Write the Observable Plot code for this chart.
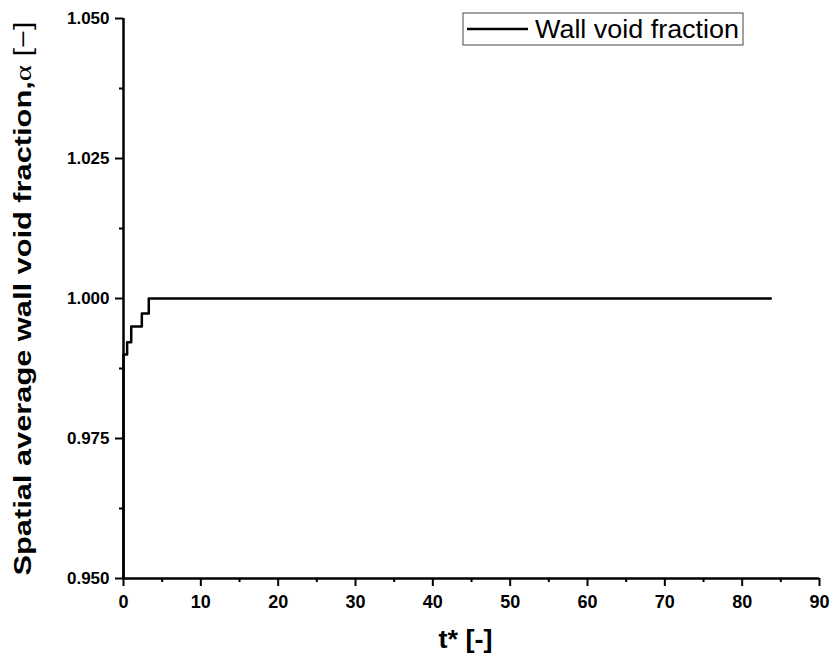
<!DOCTYPE html>
<html>
<head>
<meta charset="utf-8">
<script src="https://cdn.jsdelivr.net/npm/d3@7"></script>
<script src="https://cdn.jsdelivr.net/npm/@observablehq/plot@0.6"></script>
<style>
  html, body { margin: 0; padding: 0; background: #fff; }
  #chart svg { display: block; }
</style>
</head>
<body>
<div id="chart"></div>
<script>
// Data (step series)
const tStar = [0, 0, 0.47, 1.0, 2.37, 3.27, 83.7];
const alpha = [0.950, 0.990, 0.9922, 0.995, 0.9973, 1.000, 1.000];

// Tick values
const xMajor = [0, 10, 20, 30, 40, 50, 60, 70, 80, 90];
const xMinor = [5, 15, 25, 35, 45, 55, 65, 75, 85];
const yMajor = [0.950, 0.975, 1.000, 1.025, 1.050];
const yMinor = [0.9625, 0.9875, 1.0125, 1.0375];

const seriesName = "Wall void fraction";
const xLabel = "t* [-]";
const yLabelMain = "Spatial average wall void fraction,";
const yLabelSym = "α";
const yLabelUnit = " [\u2212]";

const data = tStar.map((t, i) => ({t, a: alpha[i]}));
const font = "'Liberation Sans', Arial, sans-serif";

const chart = Plot.plot({
  width: 833,
  height: 666,
  marginLeft: 123,
  marginRight: 14,
  marginTop: 18,
  marginBottom: 88,
  style: {fontFamily: font, fontWeight: "bold", fontSize: "17px", color: "#000", background: "#fff"},
  x: {domain: [0, 90]},
  y: {domain: [0.95, 1.05]},
  marks: [
    Plot.axisX({ticks: xMajor, tickSize: 8, tickPadding: 9, strokeWidth: 2, tickFormat: d => String(d), label: null, fontSize: 18}),
    Plot.axisX({ticks: xMinor, tickSize: 4, strokeWidth: 2, tickFormat: () => "", label: null}),
    Plot.axisY({ticks: yMajor, tickSize: 8, tickPadding: 6, strokeWidth: 2, tickFormat: d3.format(".3f"), label: null, fontSize: 17}),
    Plot.axisY({ticks: yMinor, tickSize: 4, strokeWidth: 2, tickFormat: () => "", label: null}),
    Plot.ruleY([0.95], {strokeWidth: 2.5}),
    Plot.ruleX([0], {strokeWidth: 2.5}),
    Plot.line(data, {x: "t", y: "a", curve: "step-after", stroke: "#000", strokeWidth: 2.5}),
    Plot.text([xLabel], {frameAnchor: "bottom", dx: -6, dy: 69, fontSize: 26, fontWeight: "bold", className: "xlab"}),
    Plot.text([yLabelMain], {frameAnchor: "left", dx: -100, rotate: -90, textAnchor: "middle", fontSize: 23, fontWeight: "bold", className: "ylab"})
  ]
});

document.getElementById("chart").appendChild(chart);

const svg = d3.select(chart);

// x label stretched like the reference
svg.select("g.xlab text").attr("textLength", 54).attr("lengthAdjust", "spacingAndGlyphs");

// rich y label with Greek alpha, stretched along its length like the reference
const yl = svg.select("g.ylab text");
yl.text(null);
yl.append("tspan").text(yLabelMain);
yl.append("tspan").attr("font-family", "'Liberation Serif', 'Times New Roman', serif").attr("font-weight", "normal").text(yLabelSym);
yl.append("tspan").attr("font-weight", "normal").text(yLabelUnit);
yl.attr("textLength", 554).attr("lengthAdjust", "spacingAndGlyphs");

// legend box
const lg = svg.append("g");
lg.append("rect").attr("x", 463).attr("y", 13).attr("width", 280).attr("height", 32)
  .attr("fill", "#fff").attr("stroke", "#444").attr("stroke-width", 1);
lg.append("line").attr("x1", 467).attr("x2", 528).attr("y1", 29).attr("y2", 29)
  .attr("stroke", "#000").attr("stroke-width", 2.5);
lg.append("text").attr("x", 535).attr("y", 38).attr("text-anchor", "start").attr("font-family", font).attr("font-weight", "normal")
  .attr("font-size", 26).attr("textLength", 204).attr("lengthAdjust", "spacingAndGlyphs")
  .attr("fill", "#000").text(seriesName);
</script>
</body>
</html>
